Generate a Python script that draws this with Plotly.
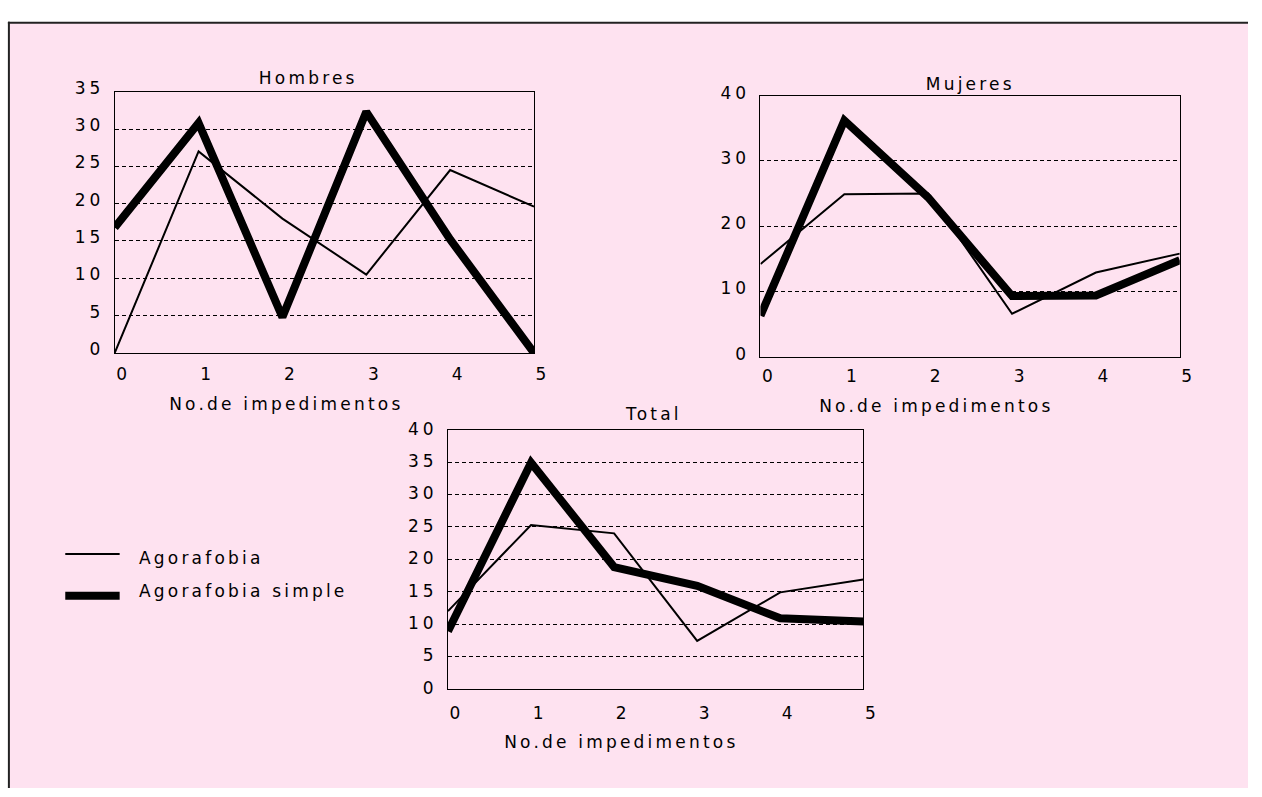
import plotly.graph_objects as go

# ---------------- data ----------------
impedimentos = [0, 1, 2, 3, 4, 5]
tick_labels = ["0", "1", "2", "3", "4", "5"]

hombres_agorafobia = [0, 27.0, 18.0, 10.5, 24.5, 19.6]
hombres_simple = [16.8, 30.8, 4.8, 32.3, 15.2, 0]

mujeres_agorafobia = [14.2, 24.9, 25.0, 6.6, 12.9, 15.8]
mujeres_simple = [6.3, 36.2, 24.4, 9.3, 9.4, 14.8]

total_agorafobia = [12.0, 25.3, 24.0, 7.4, 14.9, 16.9]
total_simple = [8.9, 34.9, 18.8, 15.9, 10.9, 10.4]

series_names = ["Agorafobia", "Agorafobia simple"]
panel_titles = ["Hombres", "Mujeres", "Total"]
x_title = "No.de impedimentos"

# ---------------- layout helpers ----------------
W, H = 1262, 797
PINK = "#FEE2F0"
FONT = "DejaVu Sans, Verdana, sans-serif"
FS = 17
THIN, THICK = 2, 8


def px_x(p):
    return p / W


def px_y(p):
    return 1 - p / H


panels = [
    # (xaxis, yaxis, left, right, top, bottom, ymax, ydtick, ylabel shift, xlabel standoff)
    ("x", "y", 116, 540, 80, 349, 35, 5, -4, 6),
    ("x2", "y2", 769, 1193, 84, 353, 40, 10, -3, 4),
    ("x3", "y3", 453, 873, 428, 695, 40, 5, -1, 9),
]
data_sets = [
    (hombres_agorafobia, hombres_simple),
    (mujeres_agorafobia, mujeres_simple),
    (total_agorafobia, total_simple),
]

fig = go.Figure()
for (xa, ya, *_), (thin_vals, thick_vals) in zip(panels, data_sets):
    fig.add_trace(go.Scatter(x=impedimentos, y=thin_vals, mode="lines",
                             name=series_names[0], xaxis=xa, yaxis=ya,
                             line=dict(color="black", width=THIN),
                             showlegend=False, cliponaxis=False))
    fig.add_trace(go.Scatter(x=impedimentos, y=thick_vals, mode="lines",
                             name=series_names[1], xaxis=xa, yaxis=ya,
                             line=dict(color="black", width=THICK),
                             showlegend=False, cliponaxis=False))

layout = dict(
    width=W, height=H,
    margin=dict(l=0, r=0, t=0, b=0),
    paper_bgcolor="white",
    plot_bgcolor=PINK,
    font=dict(family=FONT, size=FS, color="black"),
    showlegend=False,
)

annotations = []
for i, (xa, ya, left, right, top, bottom, ymax, dt, yshift, xstand) in enumerate(panels):
    xkey = "xaxis" if xa == "x" else "xaxis" + xa[1:]
    ykey = "yaxis" if ya == "y" else "yaxis" + ya[1:]
    layout[xkey] = dict(
        domain=[px_x(left), px_x(right)], anchor=ya, range=[0, 5],
        tickmode="array", tickvals=impedimentos, ticktext=tick_labels,
        showgrid=False, zeroline=False, showline=True, mirror=True,
        linecolor="black", linewidth=1, ticks="",
        ticklabelshift=9, ticklabelstandoff=xstand,
        tickfont=dict(size=FS),
    )
    layout[ykey] = dict(
        domain=[px_y(bottom), px_y(top)], anchor=xa, range=[0, ymax],
        dtick=dt, tick0=0,
        showgrid=True, gridcolor="black", gridwidth=1, griddash="4px,3px",
        zeroline=False, showline=True, mirror=True,
        linecolor="black", linewidth=1, ticks="",
        ticklabelstandoff=6, ticklabelshift=yshift,
        tickfont=dict(size=FS),
    )
    title_x = [0.462, 0.50, 0.495][i]
    title_y = [1.052, 1.043, 1.06][i]
    annotations.append(dict(text=panel_titles[i], xref=xa + " domain", yref=ya + " domain",
                            x=title_x, y=title_y, xanchor="center", yanchor="middle",
                            showarrow=False, font=dict(size=FS)))
    xt_x = [0.41, 0.42, 0.417][i]
    xt_y = [-0.197, -0.19, -0.205][i]
    annotations.append(dict(text=x_title, xref=xa + " domain", yref=ya + " domain",
                            x=xt_x, y=xt_y, xanchor="center", yanchor="middle",
                            showarrow=False, font=dict(size=FS)))

annotations.append(dict(text=series_names[0], xref="paper", yref="paper",
                        x=px_x(139), y=px_y(560), xanchor="left", yanchor="middle",
                        align="left", showarrow=False, font=dict(size=FS)))
annotations.append(dict(text=series_names[1], xref="paper", yref="paper",
                        x=px_x(139), y=px_y(594), xanchor="left", yanchor="middle",
                        align="left", showarrow=False, font=dict(size=FS)))

shapes = [
    dict(type="rect", xref="paper", yref="paper", x0=px_x(9), x1=1.0,
         y0=0, y1=px_y(9), fillcolor=PINK, line=dict(width=0), layer="below"),
    dict(type="line", xref="paper", yref="paper", x0=px_x(8), x1=1.0,
         y0=px_y(9), y1=px_y(9), line=dict(color="#222222", width=2)),
    dict(type="line", xref="paper", yref="paper", x0=px_x(9), x1=px_x(9),
         y0=0, y1=px_y(8), line=dict(color="#222222", width=2)),
    dict(type="line", xref="paper", yref="paper", x0=px_x(66), x1=px_x(121),
         y0=px_y(556), y1=px_y(556), line=dict(color="black", width=THIN)),
    dict(type="line", xref="paper", yref="paper", x0=px_x(66), x1=px_x(121),
         y0=px_y(599), y1=px_y(599), line=dict(color="black", width=8)),
]

layout["annotations"] = annotations
layout["shapes"] = shapes
fig.update_layout(**layout)

post = (
    "document.documentElement.style.margin='0';"
    "document.documentElement.style.overflow='hidden';"
    "document.documentElement.style.background='" + PINK + "';"
    "document.body.style.background='" + PINK + "';"
    "document.body.style.margin='0';"
    "document.body.style.padding='0';"
    "document.body.style.overflow='hidden';"
    "var gd=document.getElementById('{plot_id}');"
    "gd.style.position='fixed';gd.style.left='0px';gd.style.top='0px';"
    "gd.querySelectorAll('text').forEach(function(t){t.style.letterSpacing='3.2px';});"
    "gd.querySelectorAll('g[class*=\"tick\"] text').forEach(function(t){t.style.letterSpacing='4px';});"
)
fig.write_html("out.html", config={"displayModeBar": False}, post_script=post)
